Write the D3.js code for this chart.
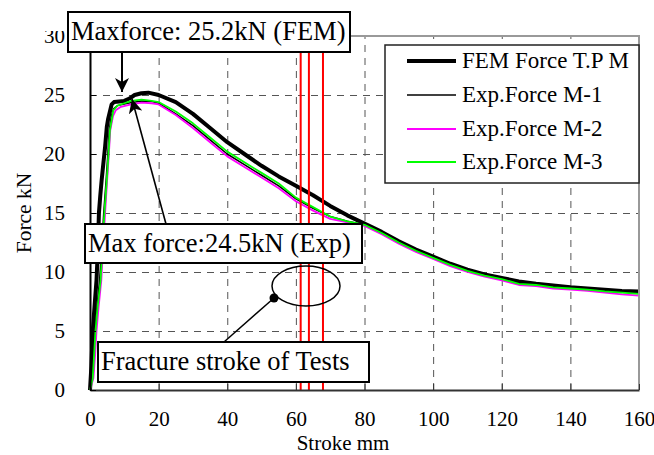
<!DOCTYPE html>
<html>
<head>
<meta charset="utf-8">
<script src="https://cdn.jsdelivr.net/npm/d3@7"></script>
<style>
body { margin: 0; background: #fff; }
svg, svg text { font-family: "Liberation Serif", "Times New Roman", serif !important; }
</style>
</head>
<body>
<div id="chart"></div>
<script>
var width = 654;
var height = 455;

// tick values
var xTicks = [0, 20, 40, 60, 80, 100, 120, 140, 160];
var yTicks = [0, 5, 10, 15, 20, 25, 30];

// stroke (mm) where the test specimens fractured
var fractureStrokes = [61.4, 63.8, 67.9];

var seriesNames = ["FEM Force T.P M", "Exp.Force M-1", "Exp.Force M-2", "Exp.Force M-3"];

// [stroke mm, force kN]
var femForce = [[0,0],[0.4,2],[0.8,5],[1.3,7],[1.9,9.3],[2.3,12],[2.6,15],[3.0,16.5],[3.4,17.8],[4.0,19.5],
  [4.4,20.6],[4.9,22.3],[5.3,23],[6.3,24.2],[7,24.4],[10,24.5],[11.5,24.7],[13,25.0],[15,25.15],[17,25.2],
  [20,25.0],[25,24.4],[30,23.4],[35,22.2],[40,21.0],[45,20.0],[50,19.0],[55,18.1],[60,17.3],[65,16.5],
  [70,15.6],[75,14.8],[80,14.1],[85,13.4],[90,12.6],[95,11.9],[100,11.3],[105,10.7],[110,10.2],[115,9.8],
  [120,9.5],[125,9.2],[130,9.0],[135,8.85],[140,8.7],[145,8.6],[150,8.5],[155,8.4],[160,8.35]];

var expM1 = [[0,0],[0.6,1],[1.0,3],[1.4,5],[2.0,7],[2.8,9.3],[3.4,12],[4.0,15],[4.7,17.8],[5.2,20],
  [5.6,22],[6.2,23.2],[6.8,23.8],[8,24.1],[11,24.3],[15,24.5],[18,24.45],[20,24.3],[25,23.4],[30,22.4],
  [35,21.2],[40,20.0],[45,19.1],[50,18.2],[55,17.3],[60,16.2],[65,15.4],[70,14.7],[75,14.3],[80,14.0],
  [85,13.3],[90,12.5],[95,11.8],[100,11.2],[105,10.6],[110,10.1],[115,9.7],[120,9.4],[125,9.05],[130,8.9],
  [135,8.75],[140,8.65],[145,8.55],[150,8.4],[155,8.3],[160,8.25]];

var expM2 = [[0,0],[1.0,1],[1.5,3],[1.9,5],[2.5,7],[3.3,9.3],[3.8,12],[4.4,15],[5.0,17.8],[5.5,20],
  [5.9,22],[6.7,23.2],[7.5,23.7],[9,24.0],[12,24.2],[15,24.35],[18,24.3],[20,24.2],[25,23.3],[30,22.2],
  [35,21.0],[40,19.8],[45,18.9],[50,18.0],[55,17.1],[60,16.0],[65,15.2],[70,14.5],[75,14.2],[80,13.9],
  [85,13.2],[90,12.4],[95,11.7],[100,11.1],[105,10.5],[110,10.0],[115,9.6],[120,9.3],[125,8.9],[130,8.8],
  [135,8.6],[140,8.5],[145,8.4],[150,8.25],[155,8.1],[160,8.0]];

var expM3 = [[0,0],[0.8,1],[1.2,3],[1.6,5],[2.2,7],[3.1,9.3],[3.6,12],[4.2,15],[4.9,17.8],[5.4,20],
  [5.8,22],[6.5,23.2],[6.8,23.7],[8,24.1],[10,24.3],[12,24.5],[15,24.6],[18,24.5],[20,24.4],[25,23.6],
  [30,22.6],[35,21.4],[40,20.2],[45,19.3],[50,18.4],[55,17.5],[60,16.3],[65,15.5],[70,14.7],[75,14.3],
  [80,14.0],[85,13.3],[90,12.5],[95,11.8],[100,11.2],[105,10.6],[110,10.1],[115,9.7],[120,9.4],[125,9.0],
  [130,8.9],[135,8.7],[140,8.6],[145,8.5],[150,8.35],[155,8.25],[160,8.15]];

var series = [
  {name: seriesNames[0], data: femForce, color: "#000", w: 4},
  {name: seriesNames[1], data: expM1, color: "#000", w: 1.5},
  {name: seriesNames[2], data: expM2, color: "#ff00ff", w: 1.8},
  {name: seriesNames[3], data: expM3, color: "#00ff00", w: 1.8}
];

var x = d3.scaleLinear().domain([0, 160]).range([90, 639]);
var y = d3.scaleLinear().domain([0, 30]).range([390, 36]);

var svg = d3.select("#chart").append("svg")
  .attr("width", width).attr("height", height);

svg.append("rect").attr("width", width).attr("height", height).attr("fill", "#fff");

// dashed grid
svg.append("g")
  .attr("transform", "translate(0,390)")
  .call(d3.axisBottom(x).tickValues(xTicks.slice(1, -1)).tickSize(-354).tickFormat(""))
  .call(g => g.select(".domain").remove())
  .selectAll("line").attr("stroke", "#555").attr("stroke-dasharray", "7,6");
svg.append("g")
  .attr("transform", "translate(90,0)")
  .call(d3.axisLeft(y).tickValues(yTicks.slice(1, -1)).tickSize(-549).tickFormat(""))
  .call(g => g.select(".domain").remove())
  .selectAll("line").attr("stroke", "#555").attr("stroke-dasharray", "7,6");

// curves
var line = d3.line().x(d => x(d[0])).y(d => y(d[1]));
svg.selectAll("path.curve")
  .data(series)
  .enter()
  .append("path")
  .attr("class", "curve")
  .attr("d", d => line(d.data))
  .attr("fill", "none")
  .attr("stroke", d => d.color)
  .attr("stroke-width", d => d.w)
  .attr("stroke-linejoin", "round");

// fracture stroke lines
svg.selectAll("line.fracture")
  .data(fractureStrokes)
  .enter()
  .append("line")
  .attr("class", "fracture")
  .attr("x1", d => x(d)).attr("x2", d => x(d))
  .attr("y1", y(30)).attr("y2", y(0))
  .attr("stroke", "#ff0000").attr("stroke-width", 2);

// frame
svg.append("path")
  .attr("d", "M90,36H639V390")
  .attr("fill", "none").attr("stroke", "#999").attr("stroke-width", 2);

// axes
var xAxis = svg.append("g")
  .attr("transform", "translate(0,390)")
  .call(d3.axisBottom(x).tickValues(xTicks).tickSizeInner(-6).tickSizeOuter(0).tickPadding(21));
xAxis.select(".domain").attr("stroke", "#333").attr("stroke-width", 2);
xAxis.selectAll("line").attr("stroke", "#333");
xAxis.selectAll("text").style("font-size", "21px").attr("fill", "#000");

var yAxis = svg.append("g")
  .attr("transform", "translate(90,0)")
  .call(d3.axisLeft(y).tickValues(yTicks).tickSizeInner(-6).tickSizeOuter(0).tickPadding(25));
yAxis.select(".domain").attr("stroke", "#000").attr("stroke-width", 2);
yAxis.selectAll("line").attr("stroke", "#000");
yAxis.selectAll("text").style("font-size", "21px").attr("fill", "#000");

// axis titles
svg.append("text")
  .attr("x", 343).attr("y", 450)
  .attr("text-anchor", "middle").style("font-size", "21px")
  .text("Stroke mm");
svg.append("text")
  .attr("transform", "translate(31,213) rotate(-90)")
  .attr("text-anchor", "middle").style("font-size", "21.5px")
  .text("Force kN");

// legend
var legend = svg.append("g");
legend.append("rect")
  .attr("x", 385).attr("y", 45).attr("width", 254).attr("height", 138)
  .attr("fill", "#fff").attr("stroke", "#222").attr("stroke-width", 1.5);
var rowY = [61, 95, 129, 162];
var rows = legend.selectAll("g.row")
  .data(series)
  .enter()
  .append("g")
  .attr("transform", (d, i) => "translate(0," + rowY[i] + ")");
rows.append("line")
  .attr("x1", 407).attr("x2", 456)
  .attr("stroke", d => d.color)
  .attr("stroke-width", d => d.w);
rows.append("text")
  .attr("x", 462).attr("y", 7)
  .style("font-size", "23px")
  .text(d => d.name);

// annotations
var defs = svg.append("defs");
defs.append("marker")
  .attr("id", "head")
  .attr("markerUnits", "userSpaceOnUse")
  .attr("viewBox", "0 0 14 14")
  .attr("refX", 14).attr("refY", 7)
  .attr("markerWidth", 14).attr("markerHeight", 14)
  .attr("orient", "auto")
  .append("path")
  .attr("d", "M0,0L14,7L0,14L4,7Z")
  .attr("fill", "#000");

svg.append("line")
  .attr("x1", 122).attr("y1", 52).attr("x2", 122).attr("y2", 92)
  .attr("stroke", "#000").attr("stroke-width", 2)
  .attr("marker-end", "url(#head)");
svg.append("line")
  .attr("x1", 166).attr("y1", 224).attr("x2", 132).attr("y2", 99)
  .attr("stroke", "#000").attr("stroke-width", 1.6)
  .attr("marker-end", "url(#head)");

svg.append("ellipse")
  .attr("cx", 306).attr("cy", 286).attr("rx", 34).attr("ry", 20)
  .attr("fill", "none").attr("stroke", "#000").attr("stroke-width", 1.5);
svg.append("line")
  .attr("x1", 274).attr("y1", 298).attr("x2", 224).attr("y2", 342)
  .attr("stroke", "#000").attr("stroke-width", 1.5);
svg.append("circle")
  .attr("cx", 274).attr("cy", 298).attr("r", 4.5).attr("fill", "#000");

// the first box hides the top of the "30" label
svg.append("rect").attr("x", 38).attr("y", 0).attr("width", 30).attr("height", 31).attr("fill", "#fff");

var notes = [
  {text: "Maxforce: 25.2kN (FEM)", x: 68, y: 12, w: 282, h: 40},
  {text: "Max force:24.5kN (Exp)", x: 85, y: 224, w: 277, h: 39},
  {text: "Fracture stroke of Tests", x: 98, y: 342, w: 271, h: 40}
];
var note = svg.selectAll("g.note")
  .data(notes)
  .enter()
  .append("g")
  .attr("class", "note");
note.append("rect")
  .attr("x", d => d.x).attr("y", d => d.y)
  .attr("width", d => d.w).attr("height", d => d.h)
  .attr("fill", "#fff").attr("stroke", "#000").attr("stroke-width", 2);
note.append("text")
  .attr("x", d => d.x + 3).attr("y", d => d.y + 28)
  .style("font-size", "26.5px")
  .text(d => d.text);
</script>
</body>
</html>
